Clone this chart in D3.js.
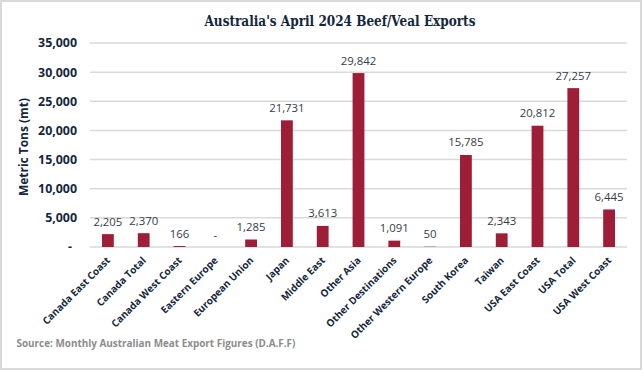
<!DOCTYPE html>
<html>
<head>
<meta charset="utf-8">
<script src="https://cdn.jsdelivr.net/npm/d3@7"></script>
<style>
  html, body { margin: 0; padding: 0; background: #fff; }
  svg { display: block; }
</style>
</head>
<body>
<script>
const categories = ["Canada East Coast", "Canada Total", "Canada West Coast", "Eastern Europe",
  "European Union", "Japan", "Middle East", "Other Asia", "Other Destinations",
  "Other Western Europe", "South Korea", "Taiwan", "USA East Coast", "USA Total", "USA West Coast"];
const values = [2205, 2370, 166, 0, 1285, 21731, 3613, 29842, 1091, 50, 15785, 2343, 20812, 27257, 6445];
const yTicks = [0, 5000, 10000, 15000, 20000, 25000, 30000, 35000];
const titleText = "Australia's April 2024 Beef/Veal Exports";
const yTitle = "Metric Tons (mt)";
const sourceText = "Source: Monthly Australian Meat Export Figures (D.A.F.F)";

const W = 642, H = 370;
const m = { left: 90, right: 15, top: 43, bottom: 123 };
const navy = "#13263d";
const barColor = "#9d1e36";
const sans = "'Open Sans', sans-serif";
const fmt = v => v === 0 ? "-" : d3.format(",")(v);

const svg = d3.select("body").append("svg").attr("width", W).attr("height", H);
svg.append("rect").attr("x", 1).attr("y", 1).attr("width", W - 2).attr("height", H - 2)
  .attr("fill", "#fff").attr("stroke", "#d9d9d9").attr("stroke-width", 2);

// helper: font size giving a target text width
function fitSize(text, weight, target) {
  const t = svg.append("text").attr("font-family", sans).attr("font-weight", weight)
    .attr("font-size", 10).text(text);
  const w = t.node().getComputedTextLength();
  t.remove();
  return 10 * target / w;
}
const xLabelSize = fitSize("Other Western Europe", 700, 111);
const yTickSize = fitSize("35,000", 700, 39);
const yTitleSize = fitSize(yTitle, 700, 98);
const sourceSize = fitSize(sourceText, 700, 279);
const valueSize = fitSize("2,205", 400, 29);

const x = d3.scaleBand().domain(categories).range([m.left, W - m.right]).paddingInner(0.67).paddingOuter(0.335);
const y = d3.scaleLinear().domain([0, 35000]).range([H - m.bottom, m.top]);

// gridlines
svg.append("g").selectAll("line").data(yTicks).join("line")
  .attr("x1", m.left).attr("x2", W - m.right)
  .attr("y1", d => y(d)).attr("y2", d => y(d))
  .attr("stroke", "#d9d9d9").attr("stroke-width", 1.5);

// y axis
const yAxis = svg.append("g").attr("transform", `translate(${m.left - 13},0)`)
  .call(d3.axisLeft(y).tickValues(yTicks).tickSize(0).tickPadding(0).tickFormat(fmt));
yAxis.select(".domain").remove();
yAxis.selectAll("text").attr("font-family", sans).attr("font-weight", 700)
  .attr("font-size", yTickSize).attr("fill", navy)
  .attr("dx", d => d === 0 ? -5 : 0);

// y title
svg.append("text").attr("transform", `translate(28,${(y(0) + y(35000)) / 2 + 2}) rotate(-90)`)
  .attr("text-anchor", "middle").attr("font-family", sans).attr("font-weight", 700)
  .attr("font-size", yTitleSize).attr("fill", navy).text(yTitle);

// bars
svg.append("g").selectAll("rect").data(values).join("rect")
  .attr("x", (d, i) => x(categories[i])).attr("width", x.bandwidth())
  .attr("y", d => y(d)).attr("height", d => y(0) - y(d))
  .attr("fill", barColor);

// value labels
svg.append("g").selectAll("text").data(values).join("text")
  .attr("x", (d, i) => x(categories[i]) + x.bandwidth() / 2)
  .attr("y", d => y(d) - 8.5)
  .attr("text-anchor", "middle").attr("font-family", sans)
  .attr("font-size", valueSize).attr("fill", "#333d4a").text(fmt);

// x axis
const xAxis = svg.append("g").attr("transform", `translate(0,${y(0)})`)
  .call(d3.axisBottom(x).tickSize(0).tickPadding(0));
xAxis.select(".domain").remove();
xAxis.selectAll("text")
  .attr("font-family", sans).attr("font-weight", 700).attr("font-size", xLabelSize)
  .attr("fill", navy).attr("text-anchor", "end").attr("dy", null).attr("y", null)
  .attr("transform", "translate(3,14) rotate(-45)");

// title
svg.append("text").attr("x", 340).attr("y", 25.5).attr("text-anchor", "middle")
  .attr("font-family", "'DejaVu Serif', serif").attr("font-weight", 700).attr("font-size", 14)
  .attr("fill", navy).attr("textLength", 271).attr("lengthAdjust", "spacingAndGlyphs").text(titleText);

// source
svg.append("text").attr("x", 16.5).attr("y", 347).attr("font-family", sans)
  .attr("font-weight", 700).attr("font-size", sourceSize).attr("fill", "#8c8c8c").text(sourceText);
</script>
</body>
</html>
